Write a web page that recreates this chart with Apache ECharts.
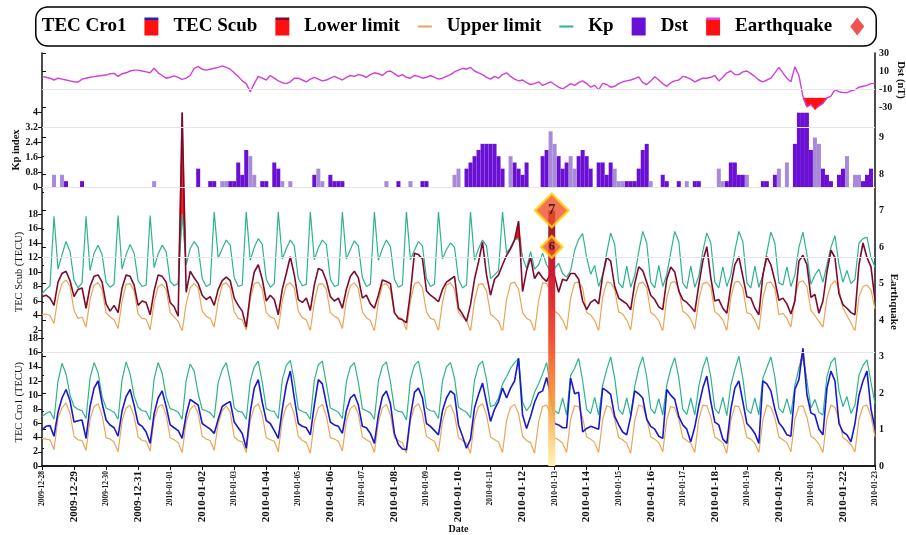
<!DOCTYPE html>
<html>
<head>
<meta charset="utf-8">
<script src="https://cdn.jsdelivr.net/npm/echarts@6/dist/echarts.min.js"></script>
<style>
html, body { margin: 0; padding: 0; background: #fff; }
#main { width: 906px; height: 535px; }
</style>
</head>
<body>
<div id="main"></div>
<script>
// day labels of the x axis (one tick per day)
var dates = ['2009-12-28','2009-12-29','2009-12-30','2009-12-31','2010-01-01','2010-01-02','2010-01-03',
  '2010-01-04','2010-01-05','2010-01-06','2010-01-07','2010-01-08','2010-01-09','2010-01-10','2010-01-11',
  '2010-01-12','2010-01-13','2010-01-14','2010-01-15','2010-01-16','2010-01-17','2010-01-18','2010-01-19',
  '2010-01-20','2010-01-21','2010-01-22','2010-01-23'];

// 3-hourly values, one row per day (00,03,...,21 UT), last value = 2010-01-23 00 UT
var tecScub = [
  6.6,6.8,6.4,5.4,8.6,9.8,10.1,8.8,   6.6,7.6,7.8,5.0,8.0,9.4,9.6,8.6,
  5.6,4.6,5.4,4.4,7.8,9.6,9.4,8.2,    5.4,6.0,5.8,4.1,7.4,9.6,9.4,8.6,
  5.8,5.2,3.9,32.0,7.2,10.1,9.2,8.4,  6.8,6.2,6.6,5.4,7.6,8.8,9.3,8.8,
  6.4,5.4,4.6,2.4,7.0,10.0,11.0,9.0,  6.0,6.8,6.2,4.1,7.6,9.8,12.1,9.6,
  6.2,5.8,6.4,4.7,8.2,10.5,10.2,8.8,  6.6,6.0,6.4,5.0,7.6,9.4,10.1,9.2,
  6.4,6.8,5.6,5.0,6.8,8.9,8.7,8.4,    4.4,3.6,3.4,3.0,7.2,12.6,12.4,11.8,
  7.4,6.8,6.4,5.9,7.6,8.6,9.0,9.4,    5.0,4.2,3.2,5.5,9.0,11.4,14.1,9.6,
  6.8,9.0,9.6,11.0,12.3,13.2,14.4,17.0, 7.3,10.2,12.0,9.1,10.0,9.2,8.7,9.8,
  9.4,7.2,9.0,8.8,9.8,9.8,9.0,6.0,    4.8,5.8,6.2,5.6,9.5,12.0,11.5,8.0,
  6.4,6.0,5.6,4.8,8.4,10.7,10.2,8.6,  6.8,6.2,5.2,4.8,9.0,10.7,10.0,7.4,
  6.2,5.8,5.2,4.5,8.2,11.5,13.5,9.2,  6.0,6.2,5.0,4.3,8.0,11.0,12.1,9.4,
  6.6,6.4,5.0,4.1,9.6,12.1,11.0,8.8,  6.1,6.4,5.6,4.2,6.0,11.5,12.3,11.0,
  6.5,6.9,4.3,6.0,10.0,13.0,12.0,7.0, 5.5,5.0,4.4,4.1,11.0,14.0,12.0,10.7,
  6.1];
var scubLower = [
  4.1,4.2,4.0,2.9,6.5,8.4,8.9,8.0,  4.7,3.6,3.8,2.4,6.2,8.2,8.5,7.6,
  4.4,3.8,3.4,2.2,6.0,8.3,8.4,7.4,  4.2,3.6,3.5,2.0,5.8,8.0,8.3,7.6,
  4.4,3.8,3.2,1.8,5.6,7.8,8.4,7.8,  4.6,3.9,3.6,2.4,6.0,8.2,8.5,7.8,
  4.5,3.6,3.4,2.0,6.2,8.4,8.6,7.6,  4.4,3.8,3.6,2.1,6.0,8.2,8.5,7.8,
  4.6,3.7,3.4,1.9,5.8,8.3,8.4,7.6,  4.4,3.9,3.6,2.2,6.1,8.1,8.5,7.7,
  4.5,3.7,3.3,1.8,5.9,8.2,8.4,7.5,  4.3,3.8,3.5,2.0,6.0,8.4,8.6,7.8,
  4.5,3.6,3.4,1.9,5.8,8.2,8.5,7.6,  4.4,3.8,3.3,1.8,6.0,8.3,8.4,7.4,
  4.2,3.7,3.2,1.7,6.2,8.4,8.6,7.6,  4.4,3.6,3.3,1.8,6.0,8.5,8.4,7.5,
  4.6,4.2,3.4,2.0,6.4,8.5,8.6,7.8,  4.4,4.1,3.3,1.9,6.5,8.6,8.5,7.6,
  4.5,4.2,3.4,2.0,6.3,8.4,8.6,7.8,  4.4,4.0,3.3,1.8,6.4,8.5,8.7,7.7,
  4.6,4.2,3.5,2.1,6.2,8.4,8.6,7.9,  4.5,4.1,3.4,1.9,6.5,8.6,8.7,7.8,
  4.4,4.2,3.3,2.0,6.4,8.5,8.6,7.7,  4.1,4.3,3.6,2.4,6.5,8.6,8.8,8.0,
  4.7,4.0,3.2,2.4,6.4,8.2,8.8,7.7,  5.0,4.0,3.0,1.8,6.6,8.0,8.2,7.5,
  4.9];
var scubUpper = [
  7.0,7.6,8.1,17.7,10.4,12.4,14.2,12.8,  8.9,7.8,8.5,17.7,10.2,12.6,13.7,12.4,
  8.6,7.9,8.3,17.8,10.4,12.4,13.8,12.6,  8.8,8.0,8.2,17.8,10.6,12.5,13.7,12.8,
  8.7,8.1,8.4,18.0,11.0,13.2,14.2,13.4,  9.1,8.0,8.3,18.3,11.9,13.2,14.4,13.7,
  9.2,8.0,8.2,18.3,11.6,13.4,14.6,13.8,  9.0,7.9,8.4,18.3,11.8,13.2,14.4,13.6,
  9.1,8.1,8.3,18.3,11.7,13.3,14.4,13.8,  9.0,8.0,8.2,18.3,11.8,13.1,14.3,13.6,
  9.2,8.0,8.3,18.3,11.6,13.2,14.4,13.5,  9.0,7.9,8.2,18.3,11.7,13.0,14.2,13.6,
  9.1,8.0,8.3,18.3,11.8,13.1,14.0,13.4,  9.0,7.8,8.2,18.3,11.6,13.2,14.4,13.6,
  9.1,9.6,10.2,18.3,12.6,13.4,14.5,14.6,  12.0,10.5,12.8,10.4,11.0,12.6,11.0,10.0,
  10.5,11.2,9.8,9.3,10.2,13.0,14.5,15.3,  12.0,9.7,10.9,8.0,9.6,12.6,15.4,13.8,
  8.5,7.8,10.8,7.9,9.5,12.8,15.6,14.0,  8.6,7.8,10.9,8.0,9.6,12.7,15.6,14.2,
  8.5,7.7,10.8,7.9,9.4,12.8,15.4,14.0,  8.6,7.8,10.7,8.0,9.6,12.9,15.6,14.2,
  8.5,7.8,10.8,7.9,9.5,12.7,15.5,14.0,  8.5,8.2,10.7,8.0,9.6,13.4,15.5,12.4,
  8.3,9.6,10.4,8.6,11.0,13.4,15.0,11.0,  8.6,10.2,8.4,9.0,14.0,14.6,14.8,12.0,
  10.7];
var tecCro1 = [
  5.1,5.6,5.7,4.2,7.6,9.6,10.8,9.2,   6.2,6.4,6.5,3.9,8.4,11.0,12.0,8.9,
  6.5,5.8,5.4,4.2,7.8,9.8,10.8,8.6,   6.0,5.6,4.8,3.2,7.4,9.6,10.6,8.4,
  5.8,5.4,5.0,3.9,7.2,9.4,9.0,8.6,    6.0,5.6,5.2,4.6,6.6,8.4,8.8,9.1,
  6.2,5.4,4.6,2.5,7.6,11.0,12.2,9.0,  6.4,6.0,5.0,3.9,8.0,11.4,13.4,9.6,
  6.0,5.6,5.4,4.4,8.6,12.2,11.6,8.8,  6.2,5.8,5.6,4.6,7.8,9.6,10.1,8.6,
  5.6,5.4,4.6,3.2,7.2,9.8,10.6,8.8,   4.6,3.0,2.4,2.3,7.0,10.4,11.0,9.6,
  6.0,5.6,5.0,4.4,7.8,9.6,10.6,10.1,  5.8,4.2,2.5,3.8,8.2,10.1,11.7,9.0,
  6.3,8.0,9.1,11.0,9.6,11.0,12.0,15.2, 7.2,5.3,7.0,9.0,10.3,10.6,12.5,10.0,
  6.0,5.8,5.4,5.4,12.4,10.2,10.4,4.8, 5.3,5.6,5.4,5.2,11.0,10.6,10.1,7.0,
  5.8,4.8,4.4,7.0,10.6,10.2,9.6,6.6,  5.6,5.2,4.2,3.9,10.8,10.0,9.4,7.0,
  5.8,5.2,3.4,5.5,8.5,11.0,12.7,9.1,  6.2,5.8,3.8,3.2,8.0,11.0,12.0,9.1,
  6.0,5.4,4.6,3.2,12.0,11.6,10.6,8.0, 6.1,5.4,4.4,4.2,10.8,12.2,16.6,10.1,
  7.5,7.2,5.2,4.4,11.0,13.4,12.0,6.0, 4.8,4.4,3.4,6.0,10.0,12.0,13.4,8.0,
  5.3];
var cro1Lower = [
  3.9,3.8,3.7,2.3,6.8,8.2,8.9,7.4,  4.2,3.7,3.6,2.2,6.6,8.4,8.8,7.2,
  4.0,3.8,3.4,2.0,6.4,8.2,8.6,7.0,  4.1,3.6,3.5,2.1,6.6,8.3,8.7,7.2,
  4.0,3.7,3.3,1.9,6.2,8.0,8.6,7.4,  4.2,3.8,3.6,2.2,6.0,7.8,8.5,7.6,
  4.1,3.6,3.4,1.9,6.4,8.3,8.8,7.2,  4.0,3.7,3.5,2.0,6.5,8.4,8.9,7.3,
  4.2,3.6,3.3,1.8,6.3,8.2,8.7,7.1,  4.0,3.8,3.5,2.1,6.4,8.1,8.6,7.3,
  4.1,3.7,3.4,1.9,6.2,8.2,8.7,7.2,  4.0,3.6,3.3,1.8,6.4,8.3,8.8,7.4,
  4.2,3.8,3.5,2.0,6.3,8.2,8.6,7.3,  4.0,3.6,3.2,1.8,6.5,8.4,8.8,7.2,
  4.1,3.7,3.4,1.9,6.4,8.3,8.7,7.4,  4.2,3.6,3.3,1.8,6.2,8.4,8.6,7.2,
  4.0,3.7,3.2,1.9,6.6,8.5,8.4,6.8,  4.1,3.8,3.3,1.9,6.6,8.5,8.3,6.6,
  4.0,3.7,3.2,1.8,6.4,8.6,8.4,6.8,  4.1,3.8,3.3,2.0,6.5,8.4,8.2,6.6,
  4.0,3.6,3.2,1.9,6.6,8.6,8.5,6.9,  4.1,3.7,3.3,1.8,6.4,8.5,8.4,6.7,
  4.0,3.8,3.2,1.9,6.5,8.6,8.3,6.8,  4.1,3.7,3.3,2.0,6.6,8.4,8.5,6.9,
  4.2,3.8,3.1,1.9,6.7,8.6,8.3,6.6,  4.0,3.6,3.0,2.0,6.6,8.4,8.6,7.0,
  4.1];
var cro1Upper = [
  7.0,7.4,7.7,6.6,12.0,14.5,13.0,10.0,  8.4,8.0,7.8,6.7,12.4,14.6,13.2,9.8,
  8.2,7.9,7.6,6.6,12.2,14.7,13.0,9.9,   8.3,7.8,7.7,6.5,12.3,14.6,13.1,9.8,
  8.1,7.9,7.6,6.6,12.1,14.4,13.4,10.2,  8.0,7.8,7.5,6.8,11.8,13.6,14.6,12.0,
  8.2,7.7,7.6,6.6,12.0,14.0,14.8,11.8,  8.1,7.8,7.7,6.7,12.2,14.2,14.9,12.0,
  8.0,7.7,7.5,6.6,12.1,14.3,14.8,11.6,  8.2,7.9,7.6,6.7,11.9,14.0,14.6,11.8,
  8.1,7.8,7.5,6.6,12.0,14.1,14.7,11.9,  8.0,7.7,7.6,6.5,12.2,14.2,14.8,12.0,
  8.2,7.8,7.7,6.7,12.0,14.0,14.6,12.4,  8.3,7.9,7.6,6.8,12.1,14.2,14.8,12.2,
  8.4,8.6,9.6,11.6,12.6,13.8,14.6,15.2, 9.0,7.8,8.6,10.4,11.6,13.0,14.6,11.0,
  7.8,7.4,9.6,7.2,12.8,13.8,15.2,12.0,  8.0,7.4,9.7,7.2,11.4,13.6,15.4,12.4,
  8.0,7.3,9.6,7.1,11.2,13.8,15.4,12.6,  8.1,7.4,9.5,7.2,11.4,13.7,15.3,12.5,
  8.0,7.3,9.6,7.2,11.2,13.8,15.4,12.6,  8.1,7.4,9.7,7.1,11.4,13.6,15.5,12.4,
  8.0,7.4,9.6,7.2,12.4,13.9,15.4,12.6,  8.1,7.5,9.5,7.3,11.4,13.8,15.3,12.0,
  8.2,9.4,7.6,7.2,12.6,14.6,15.3,10.6,  8.4,9.8,7.4,8.6,12.8,14.2,15.0,11.8,
  8.8];

// Dst (nT), 3-hourly
var dst = [
  3.7,3,2,0,2,1,0,-1,  -2,-2.5,1,2,3,3.7,4.5,5,  5.5,7,7.4,4,7,8,10,11,
  11,10,9,8,13,8,5,2,  3,4.6,3,0.7,2,5,13,14.8,  12,11,12,13,14,15.6,14,12,
  8,4,-1,-4,-13,-4,4,2,  0,5,2,-1,-3,-4,-2,2,  2,0,-2,1,3,1,-1,0,
  2,4,2,0,3,5,4,6,  5,3,6,8,7,5,9,10,  7,4,6,3,2,5,4,2,
  3,5,3,1,2,4,6,9,  11,13,12,14,10,8,6,3,  1,4,2,6,8,4,1,-1,
  0,-3,-5,-4,-2,-6,-4,-2,  -5,-8,-10,-7,-4,-6,-3,-1,  -4,-8,-6,-11,-3.7,-5,-8,-7,
  -4,-2,-1,0,1.5,3.5,-3,-5,  -1,3.7,0,-4,-7,-3,-1,0,  4,3,1,-2,0,2,2,3,
  5,-1,3,8,10,6,6,9,  10,7,4,0,-2,0,2,8,  14,8,2,-2,14.8,5,-18,-30,
  -27,-33,-29,-26,-20,-18,-11,-13,  -14,-14,-12,-11,-8,-7,-6,-4,
  -3.7];
var DST_LIMIT = -20;

// Kp, [3-hour slot since 2009-12-28 00 UT, value]
var kpDark = [[6,0.33],[10,0.33],[39,1],[42,0.33],[43,0.33],[47,0.33],[48,0.33],[49,1.33],[50,0.67],[51,2],
  [55,0.33],[56,0.33],[58,1.33],[59,1],[68,0.67],[72,0.67],[73,0.33],[74,0.33],[75,0.33],[89,0.33],[95,0.33],
  [96,0.33],[106,1],[107,1.33],[108,1.67],[109,2],[110,2.33],[111,2.33],[112,2.33],[113,2.33],[114,1.67],[115,1],
  [118,1.33],[119,1],[120,0.67],[121,1.33],[125,1.67],[126,2],[129,1.67],[130,1],[131,1.33],[134,1.67],[135,2],
  [136,1.67],[137,1],[139,1.33],[140,1.33],[141,0.67],[142,1.33],[146,0.33],[147,0.33],[148,0.33],[149,1],[150,2],
  [151,2.33],[155,0.67],[156,0.33],[159,0.33],[163,0.33],[164,0.33],[171,0.33],[172,1.33],[173,1.33],[174,0.67],
  [175,0.67],[180,0.33],[181,0.33],[183,0.67],[188,2.33],[189,4],[190,4],[191,4],[192,2],[195,1],[196,0.67],
  [197,0.33],[199,0.67],[200,1],[205,0.33],[206,0.67],[207,1]];
var kpLight = [[3,0.67],[5,0.67],[28,0.33],[45,0.33],[46,0.33],[52,1.67],[53,0.67],[60,0.33],[62,0.33],[69,1],
  [70,0.33],[86,0.33],[92,0.33],[103,0.67],[104,1],[117,1.67],[127,3],[128,2.33],[132,1.67],[133,1],[143,1],
  [144,0.33],[145,0.33],[152,0.33],[161,0.33],[169,1],[170,0.33],[176,0.67],[184,1],[186,1.33],[193,2.67],
  [194,2.33],[201,1.67],[203,0.67],[204,0.67]];

// earthquakes: time in days since 2009-12-28 00 UT, magnitude
var quakeTime = [15.91, 15.91];
var quakeMag = [7, 6];

var STEP = 1 / 8;
var FONT = 'Liberation Serif';
var INK = '#111';
var RED = '#ff1010';

function pts(arr) { return arr.map(function (v, i) { return [i * STEP, v]; }); }
function slots(arr) { return arr.map(function (p) { return [p[0] * STEP, p[1]]; }); }
// segments [t0, t1, lo0, lo1, hi0, hi1] wherever hi rises above lo
function band(lo, hi) {
  var out = [];
  for (var i = 0; i < lo.length - 1; i++) {
    if (hi[i] > lo[i] || hi[i + 1] > lo[i + 1]) {
      out.push([i * STEP, (i + 1) * STEP, lo[i], lo[i + 1], hi[i], hi[i + 1]]);
    }
  }
  return out;
}
function maxOf(a, b) { return a.map(function (v, i) { return Math.max(v, b[i]); }); }
function bandItem(params, api) {
  var a = api.coord([api.value(0), api.value(2)]);
  var b = api.coord([api.value(1), api.value(3)]);
  var c = api.coord([api.value(1), api.value(5)]);
  var d = api.coord([api.value(0), api.value(4)]);
  return { type: 'polygon', shape: { points: [a, b, c, d] },
    style: { fill: RED, stroke: RED, lineWidth: 0.4 } };
}
function guide(vals) {
  return { silent: true, symbol: 'none', label: { show: false },
    lineStyle: { color: '#e6e6e6', width: 1, type: 'solid' },
    data: vals.map(function (v) { return { yAxis: v }; }) };
}
function stripe(c) {
  return { type: 'linear', x: 0, y: 0, x2: 0, y2: 1, colorStops: [
    { offset: 0, color: c }, { offset: 0.16, color: c },
    { offset: 0.16, color: RED }, { offset: 1, color: RED }] };
}

var dom = document.getElementById('main');
var myChart = echarts.init(dom);

var tickLabel = { fontFamily: FONT, fontWeight: 'bold', fontSize: 10, color: INK, margin: 4 };
var tick = { show: true, length: 4, lineStyle: { color: INK, width: 1 } };
var G = { left: 42, right: 31, containLabel: false, outerBoundsMode: 'none' };
var LINE_ICON = 'path://M0,0 L14,0 L14,2 L0,2 Z';

function hiddenX(g) { return { gridIndex: g, type: 'value', min: 0, max: 26, show: false }; }
function leftAxis(g, min, max, interval, name, gap, bold) {
  return {
    gridIndex: g, type: 'value', position: 'left', min: min, max: max, interval: interval,
    axisLine: { show: false }, axisTick: tick, splitLine: { show: false },
    axisLabel: Object.assign({}, tickLabel, { formatter: function (v) { return +v.toFixed(1); } }),
    name: name, nameLocation: 'middle', nameGap: gap, nameMoveOverlap: false,
    nameTextStyle: { fontFamily: FONT, fontWeight: bold ? 'bold' : 'normal', fontSize: 10.5, color: INK }
  };
}
function fill(name, xi, data) {
  return { name: name, type: 'custom', xAxisIndex: xi, yAxisIndex: xi, renderItem: bandItem, data: data,
    encode: { x: [0, 1], y: [2, 3, 4, 5] }, clip: false, silent: true };
}

var option = {
  animation: false,
  backgroundColor: '#fff',
  legend: {
    top: 7, left: 'center', orient: 'horizontal', align: 'right',
    borderColor: '#000', borderWidth: 1.5, borderRadius: 12, padding: [10, 12, 10, 6],
    itemGap: 15, itemWidth: 14, itemHeight: 18,
    textStyle: { fontFamily: FONT, fontWeight: 'bold', fontSize: 19, color: '#000', padding: [0, 13, 0, 0] },
    data: [
      { name: 'TEC Cro1', icon: 'rect', itemStyle: { color: stripe('#2020c8'), borderWidth: 0 } },
      { name: 'TEC Scub', icon: 'rect', itemStyle: { color: stripe('#7d0a2c'), borderWidth: 0 } },
      { name: 'Lower limit', icon: LINE_ICON, itemStyle: { color: '#eba55a', borderWidth: 0 } },
      { name: 'Upper limit', icon: LINE_ICON, itemStyle: { color: '#2db38e', borderWidth: 0 } },
      { name: 'Kp', icon: 'rect', itemStyle: { borderWidth: 0 } },
      { name: 'Dst', icon: 'rect', itemStyle: { color: stripe('#e040e0'), borderWidth: 0 } },
      { name: 'Earthquake', icon: 'diamond', itemStyle: { color: '#f04848', borderWidth: 0 } }
    ]
  },
  grid: [
    Object.assign({ top: 53, height: 54 }, G),        // Dst
    Object.assign({ top: 112.7, height: 74.6 }, G),   // Kp
    Object.assign({ top: 214, height: 116 }, G),      // TEC Scub
    Object.assign({ top: 338.5, bottom: 69 }, G),     // TEC Cro1
    Object.assign({ top: 137.5, bottom: 69 }, G),     // Earthquake
    Object.assign({ top: 53, bottom: 69 }, G)         // frame
  ],
  xAxis: [
    hiddenX(0), hiddenX(1), hiddenX(2),
    {
      gridIndex: 3, type: 'value', min: 0, max: 26, interval: 1,
      axisLine: { show: true, lineStyle: { color: INK, width: 1.5 } },
      axisTick: tick, splitLine: { show: false },
      axisLabel: {
        rotate: 90, margin: 5, showMinLabel: true, showMaxLabel: true, hideOverlap: false,
        formatter: function (v) {
          var i = Math.round(v);
          return i % 2 ? '{b|' + dates[i] + '}' : '{s|' + dates[i] + '}';
        },
        rich: {
          b: { fontFamily: FONT, fontWeight: 'bold', fontSize: 11, color: INK },
          s: { fontFamily: FONT, fontWeight: 'bold', fontSize: 7.5, color: INK }
        }
      },
      name: 'Date', nameLocation: 'middle', nameGap: 58, nameMoveOverlap: false,
      nameTextStyle: { fontFamily: FONT, fontWeight: 'bold', fontSize: 10, color: INK }
    },
    hiddenX(4),
    {
      gridIndex: 5, type: 'value', min: 0, max: 26, position: 'top',
      axisLine: { show: true, lineStyle: { color: INK, width: 1.5 } },
      axisTick: { show: false }, axisLabel: { show: false }, splitLine: { show: false }
    }
  ],
  yAxis: [
    {
      gridIndex: 0, type: 'value', position: 'right', min: -30, max: 30, interval: 20,
      axisLine: { show: false }, axisTick: tick, splitLine: { show: false },
      axisLabel: tickLabel,
      name: 'Dst (nT)', nameLocation: 'middle', nameRotate: -90, nameGap: 20, nameMoveOverlap: false,
      nameTextStyle: { fontFamily: FONT, fontWeight: 'bold', fontSize: 10.5, color: INK }
    },
    leftAxis(1, 0, 4, 0.8, 'Kp index', 20, true),
    leftAxis(2, 2, 18, 2, 'TEC Scub (TECU)', 17, false),
    leftAxis(3, 0, 18, 2, 'TEC Cro1 (TECU)', 17, false),
    {
      gridIndex: 4, type: 'value', position: 'right', min: 0, max: 9, interval: 1,
      axisLine: { show: false }, axisTick: tick, splitLine: { show: false },
      minorTick: { show: true, splitNumber: 2, length: 2, lineStyle: { color: INK } },
      axisLabel: tickLabel,
      name: 'Earthquake', nameLocation: 'middle', nameRotate: -90, nameGap: 13, nameMoveOverlap: false,
      nameTextStyle: { fontFamily: FONT, fontWeight: 'bold', fontSize: 11, color: INK }
    },
    {
      gridIndex: 5, type: 'value', position: 'left', min: 0, max: 1,
      axisLine: { show: true, lineStyle: { color: INK, width: 1.5 } },
      axisTick: { show: false }, axisLabel: { show: false }, splitLine: { show: false }
    },
    {
      gridIndex: 5, type: 'value', position: 'right', min: 0, max: 1,
      axisLine: { show: true, lineStyle: { color: INK, width: 1.5 } },
      axisTick: { show: false }, axisLabel: { show: false }, splitLine: { show: false }
    }
  ],
  series: [
    // Dst panel: red where Dst drops below the limit
    fill('dstFill', 0, band(dst.map(function (v) { return Math.min(v, DST_LIMIT); }),
      dst.map(function () { return DST_LIMIT; }))),
    { name: 'Dst', type: 'line', xAxisIndex: 0, yAxisIndex: 0, data: pts(dst), symbol: 'none',
      itemStyle: { color: '#d23fd8' }, lineStyle: { color: '#d23fd8', width: 1.4 }, markLine: guide([-10]) },

    // Kp panel
    { name: 'Kp', type: 'bar', xAxisIndex: 1, yAxisIndex: 1, data: slots(kpDark), barWidth: 4, barGap: '-100%',
      itemStyle: { color: '#6a0fd4' }, markLine: guide([0, 3.2]) },
    { name: 'Kp', type: 'bar', xAxisIndex: 1, yAxisIndex: 1, data: slots(kpLight), barWidth: 4, barGap: '-100%',
      itemStyle: { color: '#a98ad8' } },

    // TEC Scub panel
    { name: 'Lower limit', type: 'line', xAxisIndex: 2, yAxisIndex: 2, data: pts(scubLower), symbol: 'none',
      itemStyle: { color: '#eba55a' }, lineStyle: { color: '#eba55a', width: 1.2 }, markLine: guide([12]) },
    { name: 'Upper limit', type: 'line', xAxisIndex: 2, yAxisIndex: 2, data: pts(scubUpper), symbol: 'none', clip: false,
      itemStyle: { color: '#2db38e' }, lineStyle: { color: '#2db38e', width: 1.2 } },
    fill('scubFill', 2, band(scubUpper, maxOf(tecScub, scubUpper))),
    { name: 'TEC Scub', type: 'line', xAxisIndex: 2, yAxisIndex: 2, data: pts(tecScub), symbol: 'none', clip: false,
      itemStyle: { color: '#7d0a2c' }, lineStyle: { color: '#7d0a2c', width: 1.6 } },

    // TEC Cro1 panel
    { name: 'Lower limit', type: 'line', xAxisIndex: 3, yAxisIndex: 3, data: pts(cro1Lower), symbol: 'none',
      itemStyle: { color: '#eba55a' }, lineStyle: { color: '#eba55a', width: 1.2 }, markLine: guide([16]) },
    { name: 'Upper limit', type: 'line', xAxisIndex: 3, yAxisIndex: 3, data: pts(cro1Upper), symbol: 'none',
      itemStyle: { color: '#2db38e' }, lineStyle: { color: '#2db38e', width: 1.2 } },
    fill('cro1Fill', 3, band(cro1Upper, maxOf(tecCro1, cro1Upper))),
    { name: 'TEC Cro1', type: 'line', xAxisIndex: 3, yAxisIndex: 3, data: pts(tecCro1), symbol: 'none',
      itemStyle: { color: '#1818cc' }, lineStyle: { color: '#1818cc', width: 1.6 } },

    // Earthquake
    { name: 'Earthquake', type: 'bar', xAxisIndex: 4, yAxisIndex: 4, barWidth: 7, z: 5,
      data: [[quakeTime[0], Math.max.apply(null, quakeMag)]],
      itemStyle: { opacity: 0.95, color: { type: 'linear', x: 0, y: 0, x2: 0, y2: 1, colorStops: [
        { offset: 0, color: '#8e0a26' }, { offset: 0.25, color: '#d0142a' },
        { offset: 0.5, color: '#f04a2a' }, { offset: 0.75, color: '#f8a040' },
        { offset: 1, color: '#fff4b0' }] } } },
    { name: 'Earthquake', type: 'scatter', xAxisIndex: 4, yAxisIndex: 4, z: 10,
      symbol: 'diamond',
      symbolSize: function (v) { return (v[1] - 4.2) * 12; },
      data: quakeMag.map(function (m, i) {
        return { value: [quakeTime[i], m], label: { fontSize: m >= 7 ? 15 : 12 } };
      }).reverse(),
      itemStyle: { color: '#f0502c', borderColor: '#ffd60a', borderWidth: 2.5 },
      label: { show: true, position: 'inside', color: INK, fontFamily: FONT, fontWeight: 'bold',
        formatter: function (p) { return p.value[1]; } } }
  ]
};

if (option && typeof option === 'object') {
  myChart.setOption(option);
}
window.onresize = function () { myChart.resize(); };
</script>
</body>
</html>
